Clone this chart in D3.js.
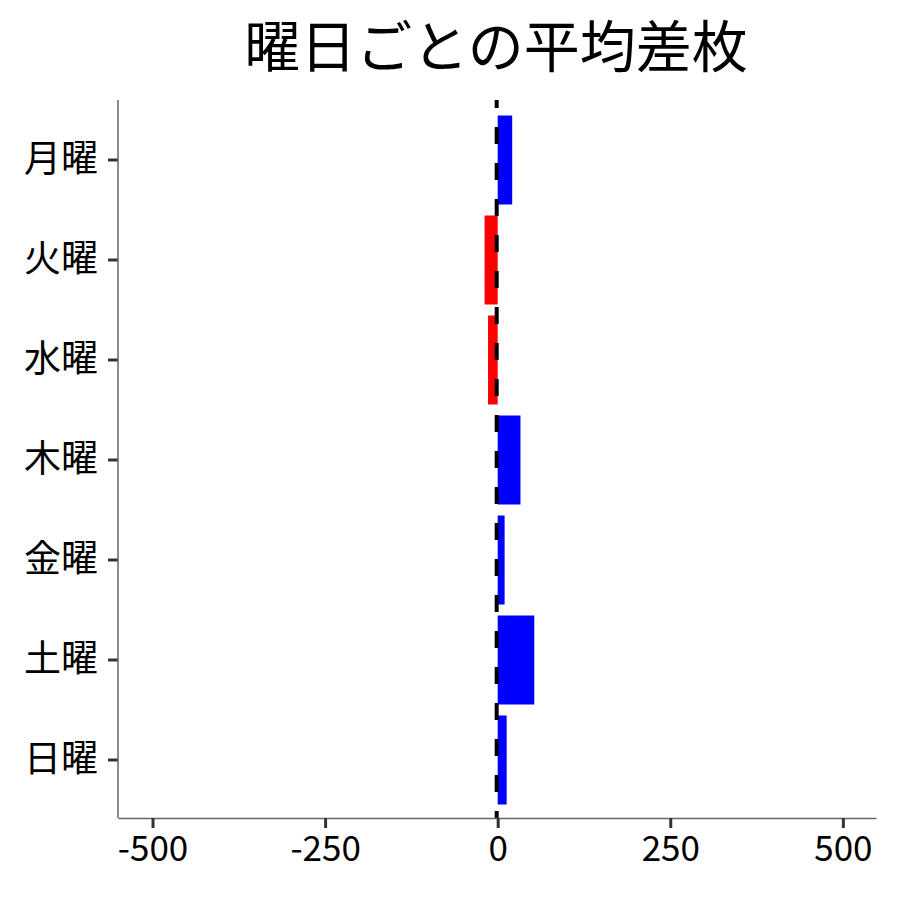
<!DOCTYPE html>
<html>
<head>
<meta charset="utf-8">
<script src="https://cdn.jsdelivr.net/npm/d3@7"></script>
<style>
  body { margin: 0; background: #fff; }
  text { font-family: "Noto Sans CJK JP", "Noto Sans", sans-serif; fill: #000; }
</style>
</head>
<body>
<div id="chart"></div>
<script>
// Data
const days = ["月曜", "火曜", "水曜", "木曜", "金曜", "土曜", "日曜"];
const avgDiff = [21, -19, -14, 33, 10, 53, 13];
const xTicks = [-500, -250, 0, 250, 500];

const width = 900;
const height = 900;
const margin = { top: 100, right: 24, bottom: 82, left: 118 };

const svg = d3.select("#chart")
  .append("svg")
    .attr("width", width)
    .attr("height", height);

const x = d3.scaleLinear()
  .domain([-550, 548])
  .range([margin.left, width - margin.right]);

const y = d3.scaleBand()
  .domain(days)
  .range([110, 810])
  .paddingInner(0.11)
  .paddingOuter(0.055);

// Bars
svg.append("g")
  .selectAll("rect")
  .data(days.map((d, i) => ({ day: d, value: avgDiff[i] })))
  .enter().append("rect")
    .attr("x", d => x(Math.min(0, d.value)))
    .attr("y", d => y(d.day))
    .attr("width", d => Math.abs(x(d.value) - x(0)))
    .attr("height", y.bandwidth())
    .attr("fill", d => d.value >= 0 ? "#0000ff" : "#ff0000");

// Zero line
svg.append("line")
  .attr("x1", x(0) - 1)
  .attr("x2", x(0) - 1)
  .attr("y1", margin.top)
  .attr("y2", height - margin.bottom)
  .attr("stroke", "#000")
  .attr("stroke-width", 4)
  .attr("stroke-dasharray", "17,19")
  .attr("stroke-dashoffset", 9);

// Axes
const xAxis = svg.append("g")
  .attr("transform", `translate(0, ${height - margin.bottom})`)
  .call(d3.axisBottom(x).tickValues(xTicks).tickFormat(d => String(d))
    .tickSize(10).tickSizeOuter(0).tickPadding(8));

const yAxis = svg.append("g")
  .attr("transform", `translate(${margin.left}, 0)`)
  .call(d3.axisLeft(y).tickSize(10).tickSizeOuter(0).tickPadding(10));

// y axis line spans the whole panel
yAxis.select(".domain").remove();
svg.append("line")
  .attr("x1", margin.left).attr("x2", margin.left)
  .attr("y1", margin.top).attr("y2", height - margin.bottom)
  .attr("stroke", "#666").attr("stroke-width", 1.5);
xAxis.select(".domain").attr("stroke", "#666").attr("stroke-width", 1.5);

[xAxis, yAxis].forEach(g => {
  g.selectAll(".tick line").attr("stroke", "#333").attr("stroke-width", 3);
  g.selectAll(".tick text").attr("fill", "#000");
});
xAxis.selectAll(".tick text").attr("font-size", 35);
yAxis.selectAll(".tick text").attr("font-size", 37);

// Title
svg.append("text")
  .attr("x", 496)
  .attr("y", 67)
  .attr("text-anchor", "middle")
  .attr("font-size", 56)
  .text("曜日ごとの平均差枚");
</script>
</body>
</html>
